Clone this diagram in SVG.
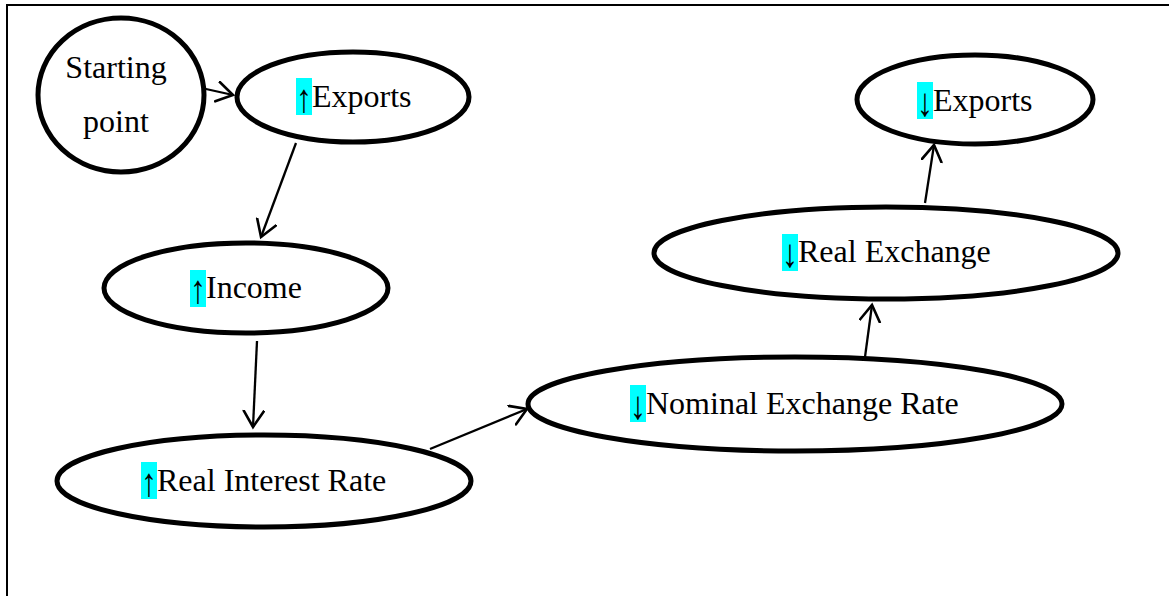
<svg xmlns="http://www.w3.org/2000/svg" width="1169" height="596" viewBox="0 0 1169 596">
<style>
.node{fill:#fff;stroke:#000;stroke-width:5}
.lbl{font-family:"Liberation Serif","Times New Roman",serif;font-size:32px;fill:#000}
.arw{font-family:"Liberation Serif","Times New Roman",serif;font-size:32px;fill:#000;text-anchor:middle}
.hl{fill:#00ffff}
.conn{stroke:#000;stroke-width:2.3;fill:none}
.frame{stroke:#000;stroke-width:2;fill:none}
</style>
<defs>
<marker id="ah" markerUnits="userSpaceOnUse" markerWidth="22" markerHeight="24" refX="17" refY="11" orient="auto">
<path d="M1,1 L17,11 L1,21" fill="none" stroke="#000" stroke-width="2.6" stroke-linecap="round" stroke-linejoin="miter"/>
</marker>
</defs>
<rect width="1169" height="596" fill="#fff"/>
<path class="frame" d="M7,596 V5 H1169"/>
<g id="connectors">
<line class="conn" x1="197" y1="87" x2="233" y2="95" marker-end="url(#ah)"/>
<line class="conn" x1="296" y1="143" x2="261" y2="237" marker-end="url(#ah)"/>
<line class="conn" x1="257" y1="341" x2="253" y2="427" marker-end="url(#ah)"/>
<line class="conn" x1="430" y1="449" x2="527" y2="409" marker-end="url(#ah)"/>
<line class="conn" x1="865" y1="357" x2="872" y2="305" marker-end="url(#ah)"/>
<line class="conn" x1="925" y1="203" x2="934" y2="145" marker-end="url(#ah)"/>
</g>
<g id="starting-point">
<ellipse class="node" cx="121" cy="95" rx="83" ry="77"/>
<text class="lbl" x="116" y="78" text-anchor="middle">Starting</text>
<text class="lbl" x="116" y="132" text-anchor="middle">point</text>
</g>
<g id="exports-up">
<ellipse class="node" cx="353" cy="97" rx="116" ry="45"/>
<rect class="hl" x="296" y="78" width="16" height="37"/>
<text class="arw" transform="translate(304,112) scale(1,1.25)">↑</text>
<text class="lbl" x="312" y="107">Exports</text>
</g>
<g id="income-up">
<ellipse class="node" cx="246" cy="288" rx="142" ry="45"/>
<rect class="hl" x="190" y="270" width="16" height="37"/>
<text class="arw" transform="translate(198,303) scale(1,1.25)">↑</text>
<text class="lbl" x="206" y="298">Income</text>
</g>
<g id="real-interest-rate-up">
<ellipse class="node" cx="264" cy="481" rx="207" ry="46"/>
<rect class="hl" x="141" y="462" width="16" height="37"/>
<text class="arw" transform="translate(149,496) scale(1,1.25)">↑</text>
<text class="lbl" x="157" y="491">Real Interest Rate</text>
</g>
<g id="nominal-exchange-rate-down">
<ellipse class="node" cx="795" cy="404" rx="267" ry="47"/>
<rect class="hl" x="630" y="385" width="16" height="37"/>
<text class="arw" transform="translate(638,419) scale(1,1.25)">↓</text>
<text class="lbl" x="646" y="414">Nominal Exchange Rate</text>
</g>
<g id="real-exchange-down">
<ellipse class="node" cx="886" cy="253" rx="232" ry="46"/>
<rect class="hl" x="782" y="234" width="16" height="37"/>
<text class="arw" transform="translate(790,267) scale(1,1.25)">↓</text>
<text class="lbl" x="798" y="262">Real Exchange</text>
</g>
<g id="exports-down">
<ellipse class="node" cx="975" cy="99.5" rx="118" ry="44.5"/>
<rect class="hl" x="917" y="82" width="16" height="37"/>
<text class="arw" transform="translate(925,116) scale(1,1.25)">↓</text>
<text class="lbl" x="933" y="111">Exports</text>
</g>
</svg>
